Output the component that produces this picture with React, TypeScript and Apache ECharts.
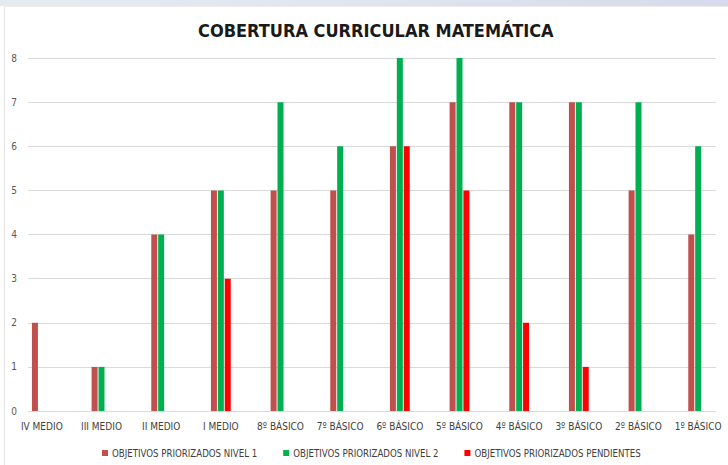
import React, { useEffect, useRef } from "react";
import * as echarts from "echarts";

const categories = [
  "IV MEDIO",
  "III MEDIO",
  "II MEDIO",
  "I MEDIO",
  "8º BÁSICO",
  "7º BÁSICO",
  "6º BÁSICO",
  "5º BÁSICO",
  "4º BÁSICO",
  "3º BÁSICO",
  "2º BÁSICO",
  "1º BÁSICO",
];
const seriesNames = [
  "OBJETIVOS PRIORIZADOS NIVEL 1",
  "OBJETIVOS PRIORIZADOS NIVEL 2",
  "OBJETIVOS PRIORIZADOS PENDIENTES",
];
const nivel1 = [2, 1, 4, 5, 5, 5, 6, 7, 7, 7, 5, 4];
const nivel2 = [null, 1, 4, 5, 7, 6, 8, 8, 7, 7, 7, 6];
const pendientes = [null, null, null, 3, null, null, 6, 5, 2, 1, null, null];
const colors = ["#C0504D", "#00B050", "#FF0000"];
const titleText = "COBERTURA CURRICULAR MATEMÁTICA";

const FONT = "'DejaVu Sans Condensed', 'DejaVu Sans', sans-serif";

export default function App() {
  const ref = useRef<HTMLDivElement>(null);
  useEffect(() => {
    if (!ref.current) return;
    const chart = echarts.init(ref.current, undefined, { renderer: "svg" });
    const values = [nivel1, nivel2, pendientes];
    chart.setOption({
      animation: false,
      backgroundColor: "#ffffff",
      textStyle: { fontFamily: FONT },
      graphic: [
        {
          type: "rect",
          shape: { x: 0, y: 0, width: 728, height: 6 },
          style: {
            fill: new echarts.graphic.LinearGradient(0, 0, 1, 0, [
              { offset: 0, color: "#e4ebf0" },
              { offset: 0.5, color: "#dfe6ee" },
              { offset: 1, color: "#d6daec" },
            ]),
          },
          silent: true,
        },
        {
          type: "line",
          shape: { x1: 4.5, y1: 6, x2: 4.5, y2: 465 },
          style: { stroke: "#e3e3e3", lineWidth: 1 },
          silent: true,
        },
        {
          type: "line",
          shape: { x1: 4, y1: 6.5, x2: 728, y2: 6.5 },
          style: { stroke: "#ececec", lineWidth: 1 },
          silent: true,
        },
      ],
      title: {
        text: titleText,
        left: 193,
        top: 16,
        textStyle: {
          fontFamily: FONT,
          fontSize: 18,
          fontWeight: "bold",
          color: "#1a1a1a",
        },
      },
      legend: {
        left: 97,
        top: 443,
        icon: "rect",
        itemWidth: 6,
        itemHeight: 6,
        itemGap: 26,
        textStyle: { fontFamily: FONT, fontSize: 9.6, color: "#404040", padding: [0, 0, 0, -1] },
        data: seriesNames,
      },
      grid: [
        { left: 12, width: 718, top: 58, height: 353, containLabel: false },
        { left: 28, width: 688, top: 58, height: 353, containLabel: false },
      ],
      xAxis: [
        {
          type: "category",
          gridIndex: 0,
          data: categories,
          axisLine: { show: false },
          axisTick: { show: false },
          axisLabel: {
            fontFamily: FONT,
            fontSize: 10,
            color: "#404040",
            margin: 10,
            interval: 0,
          },
        },
        { type: "value", gridIndex: 1, show: false, min: 0, max: 1 },
      ],
      yAxis: [
        {
          type: "value",
          gridIndex: 0,
          min: 0,
          max: 8,
          interval: 1,
          show: false,
        },
        {
          type: "value",
          gridIndex: 1,
          min: 0,
          max: 8,
          interval: 1,
          axisLine: { show: false },
          axisTick: { show: false },
          splitLine: { show: true, lineStyle: { color: "#d9d9d9", width: 1 } },
          axisLabel: { fontFamily: FONT, fontSize: 10, color: "#595959", margin: 11 },
        },
      ],
      series: seriesNames.map((name, i) => ({
        name,
        type: "bar",
        xAxisIndex: 0,
        yAxisIndex: 0,
        data: values[i],
        barWidth: 6,
        barGap: "15%",
        itemStyle: { color: colors[i] },
      })),
    });
    return () => chart.dispose();
  }, []);
  return (
    <div
      ref={ref}
      style={{ position: "fixed", left: 0, top: 0, width: 728, height: 465, background: "#fff" }}
    />
  );
}
